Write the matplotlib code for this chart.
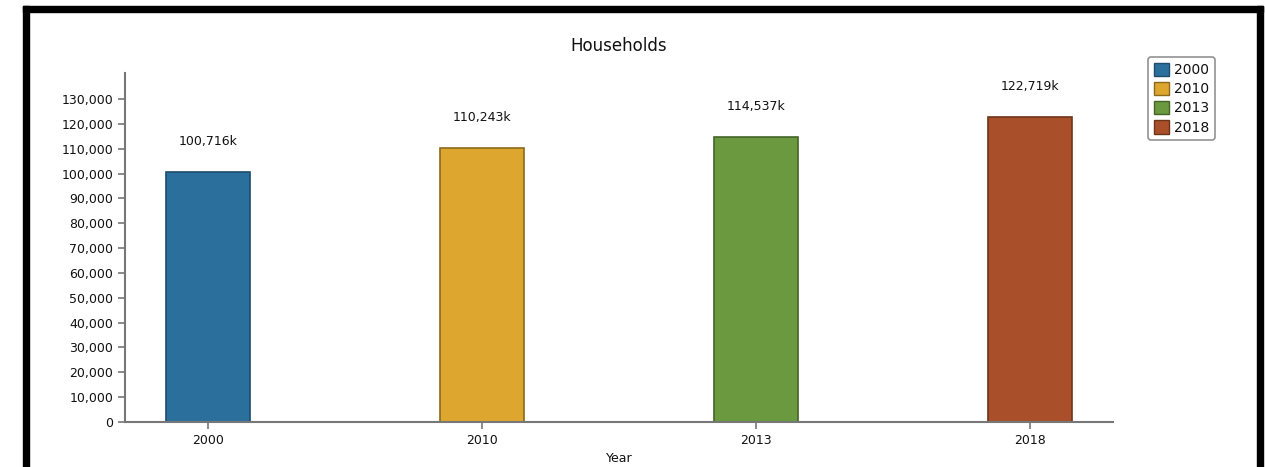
import matplotlib
matplotlib.use("Agg")
import matplotlib.pyplot as plt
from matplotlib.patches import Rectangle, Patch
from matplotlib.ticker import FuncFormatter

# household counts in thousands
years = ["2000", "2010", "2013", "2018"]
households = [100716, 110243, 114537, 122719]
bar_labels = ["100,716k", "110,243k", "114,537k", "122,719k"]
y_ticks = list(range(0, 130001, 10000))

fill_colors = ["#2b6f9d", "#dca62f", "#6a993f", "#a9502a"]
edge_colors = ["#1d4d6e", "#8c6a1c", "#456528", "#6e3419"]

plt.rcParams["font.family"] = ["DejaVu Sans"]

fig = plt.figure(figsize=(12.65, 4.67), dpi=100)
ax = fig.add_axes([0.0988, 0.0964, 0.7810, 0.7473])

x = range(len(years))
ax.bar(x, households, width=0.307, color=fill_colors, edgecolor=edge_colors, linewidth=1.2, zorder=2)
for i, (v, lab) in enumerate(zip(households, bar_labels)):
    ax.annotate(lab, (i, v), xytext=(0, 22), textcoords="offset points",
                ha="center", va="center", fontsize=9, color="#111111")

ax.set_xlim(-0.303, 3.303)
ax.set_ylim(0, 140500)
ax.set_xticks(list(x))
ax.set_xticklabels(years)
ax.set_yticks(y_ticks)
ax.yaxis.set_major_formatter(FuncFormatter(lambda v, p: f"{int(v):,}"))
ax.tick_params(axis="both", labelsize=9, colors="#777777", labelcolor="#111111",
               length=5, width=1.2)
for side in ("top", "right"):
    ax.spines[side].set_visible(False)
for side in ("left", "bottom"):
    ax.spines[side].set_color("#777777")
    ax.spines[side].set_linewidth(1.5)

ax.set_xlabel("Year", fontsize=9, color="#111111", labelpad=4)
ax.set_title("Households", fontsize=12, color="#111111", pad=16)

handles = [Patch(facecolor=c, edgecolor=e, linewidth=1.0) for c, e in zip(fill_colors, edge_colors)]
leg = fig.legend(handles, years, loc="upper left", bbox_to_anchor=(0.9075, 0.878),
                 fontsize=10, frameon=True, fancybox=True, handlelength=1.1, handleheight=1.1,
                 handletextpad=0.4, labelspacing=0.35, borderpad=0.4, borderaxespad=0)
leg.get_frame().set_edgecolor("#777777")
leg.get_frame().set_linewidth(1.2)
for t in leg.get_texts():
    t.set_color("#111111")

# thick black frame around the panel
W, H = 1265, 467
for (x0, y0, w, h) in [(23, 6, 1240, 6), (23, 6, 6, 461), (1257, 6, 6, 461)]:
    fig.add_artist(Rectangle((x0 / W, 1 - (y0 + h) / H), w / W, h / H,
                             transform=fig.transFigure, color="black", zorder=10))

fig.savefig("out.png", dpi=100)
